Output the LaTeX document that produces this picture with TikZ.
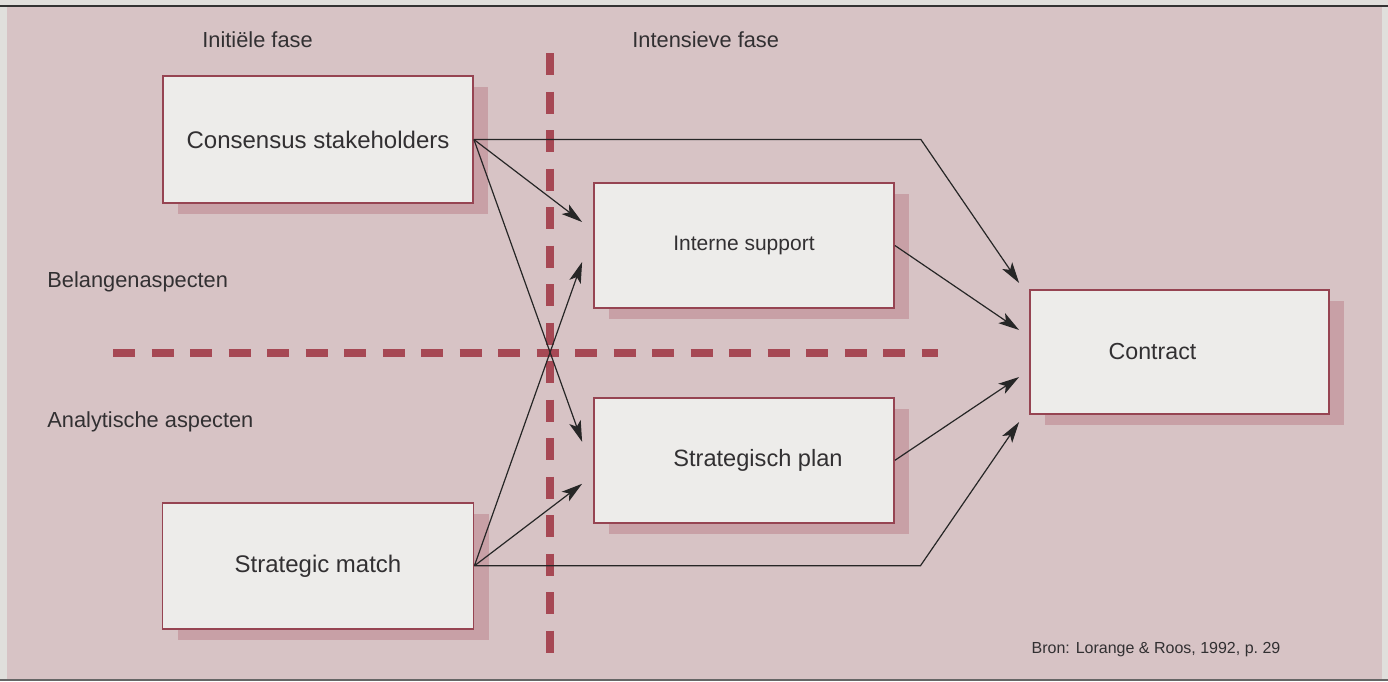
\documentclass[tikz,border=0pt]{standalone}
\usepackage{fontspec}
\setmainfont{Liberation Sans}
\usepackage{tikz}
\usetikzlibrary{arrows.meta,calc,positioning,shadows}
\definecolor{pagegrey}{RGB}{224,223,220}
\definecolor{bgpink}{RGB}{215,195,197}
\definecolor{boxfill}{RGB}{237,236,234}
\definecolor{boxline}{RGB}{150,68,82}
\definecolor{boxshadow}{RGB}{200,160,166}
\definecolor{dashred}{RGB}{166,72,84}
\definecolor{textgrey}{RGB}{50,48,50}

\begin{document}
\begin{tikzpicture}[
    x=0.5pt, y=-0.5pt,
    box/.style={draw=boxline, line width=0.9pt, fill=boxfill, text=textgrey,
        minimum width=150pt, minimum height=62.5pt, inner sep=0,
        font=\fontsize{12}{14}\selectfont,
        drop shadow={shadow xshift=7.5pt, shadow yshift=-5.5pt, fill=boxshadow, opacity=1}},
    phase/.style={anchor=west, inner sep=0, text=textgrey, font=\fontsize{10.9}{13}\selectfont},
    arr/.style={draw=black!85, line width=0.6pt, -{Stealth[length=10.5pt,width=6pt,inset=2.5pt]}},
    divider/.style={draw=dashred, line width=4pt, dash pattern=on 11pt off 8.25pt}]

\useasboundingbox (0,0) rectangle (1388,681);
\fill[pagegrey] (0,0) rectangle (1388,681);
\fill[bgpink] (7,7) rectangle (1382,679);
\draw[line width=1pt, black!80] (0,6) -- (1388,6);
\draw[line width=1.2pt, black!60] (0,680) -- (1388,680);

\draw[divider] (113,353) -- (938,353);
\draw[divider] (550,53) -- (550,653);

\node[phase] (ini) at (202,40) {Initiële fase};
\node[phase] (int) at (632,40) {Intensieve fase};
\node[phase] (bel) at (47,282) {Belangenaspecten};
\node[phase] (ana) at (47,422) {Analytische aspecten};
\node[text=textgrey, font=\fontsize{8}{10}\selectfont] (bron) at (1156,650) {Bron: Lorange \& Roos, 1992, p.~29};

\node[box, minimum width=155pt, minimum height=63.5pt] (cs) at (318,139.5) {Consensus stakeholders};
\node[box, minimum width=155.5pt, minimum height=63pt, below=149pt of cs] (sm) {Strategic match};
\node[box, font=\fontsize{10.5}{12}\selectfont] (is) at (744,245.5) {Interne support};
\node[box, font=\fontsize{11.8}{14}\selectfont, below=44pt of is] (sp) {\hspace*{14pt}Strategisch plan};
\node[box, minimum width=149.5pt, minimum height=62pt, font=\fontsize{11.6}{14}\selectfont] (ct) at (1179.5,352) {\hspace*{-27pt}Contract};

\coordinate (is1) at ([xshift=-5.5pt,yshift=11.75pt]is.west);
\coordinate (is2) at ([xshift=-5.5pt,yshift=-8.25pt]is.west);
\coordinate (sp1) at ([xshift=-5.5pt,yshift=9.25pt]sp.west);
\coordinate (sp2) at ([xshift=-5.5pt,yshift=-11.75pt]sp.west);
\coordinate (ct1) at ([xshift=-5pt,yshift=34.5pt]ct.west);
\coordinate (ct2) at ([xshift=-5pt,yshift=11pt]ct.west);
\coordinate (ct3) at ([xshift=-5pt,yshift=-12.5pt]ct.west);
\coordinate (ct4) at ([xshift=-5pt,yshift=-35pt]ct.west);

\draw[arr] (cs.east) -- (is1);
\draw[arr] (cs.east) -- (sp1);
\draw[arr] (cs.east) -- ++(447,0) -- (ct1);
\draw[arr] (sm.east) -- (is2);
\draw[arr] (sm.east) -- (sp2);
\draw[arr] (sm.east) -- ++(446,0) -- (ct4);
\draw[arr] (is.east) -- (ct2);
\draw[arr] (sp.east) -- (ct3);

\end{tikzpicture}
\end{document}
